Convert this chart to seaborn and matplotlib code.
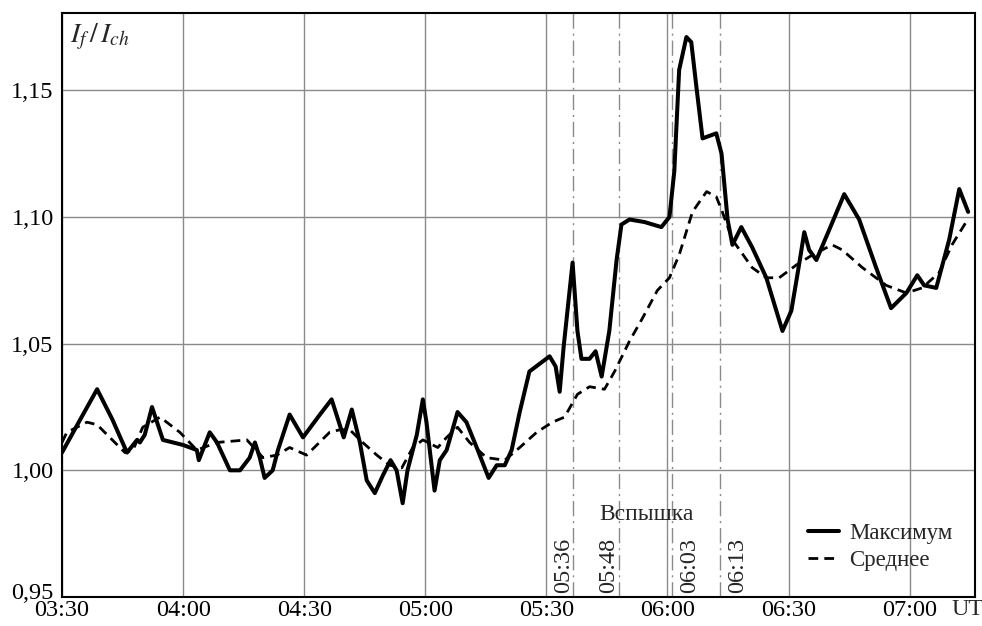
import matplotlib
matplotlib.use("Agg")
import matplotlib.pyplot as plt
import matplotlib.transforms as mtransforms
import seaborn as sns
import pandas as pd

# time in minutes after 03:30 UT
max_t = [0, 4.5, 8.7, 12.5, 16.1, 18.6, 19.3, 20.5, 22.3, 25.0, 30.0, 33.4, 33.9, 36.6, 38.4,
         41.6, 44.1, 46.5, 47.8, 49.0, 50.2, 52.2, 53.5, 56.4, 59.7, 63.9, 66.8, 69.8, 71.8,
         73.8, 75.5, 77.5, 79.5, 81.4, 82.9, 84.4, 85.6, 87.9, 89.4, 90.3, 92.3, 93.6, 95.3,
         98.0, 100.2, 103.0, 105.7, 107.7, 109.7, 111.4, 113.4, 115.8, 118.3, 120.8, 122.3,
         123.3, 124.3, 126.5, 127.7, 128.7, 130.7, 132.2, 133.7, 135.6, 137.4, 138.6, 140.6,
         144.3, 148.5, 150.5, 151.7, 152.9, 154.7, 155.9, 157.2, 158.7, 160.4, 162.1, 163.4,
         164.9, 166.1, 168.3, 171.0, 174.5, 178.5, 180.7, 182.7, 183.9, 185.1, 186.9, 190.1,
         193.8, 197.5, 201.7, 205.4, 209.2, 211.9, 213.6, 216.6, 219.8, 222.3, 224.5]
max_v = [1.007, 1.020, 1.032, 1.020, 1.007, 1.012, 1.011, 1.014, 1.025, 1.012, 1.010, 1.008,
         1.004, 1.015, 1.011, 1.000, 1.000, 1.005, 1.011, 1.005, 0.997, 1.000, 1.008, 1.022,
         1.013, 1.022, 1.028, 1.013, 1.024, 1.011, 0.996, 0.991, 0.998, 1.004, 1.000, 0.987,
         1.000, 1.014, 1.028, 1.019, 0.992, 1.004, 1.008, 1.023, 1.019, 1.008, 0.997, 1.002,
         1.002, 1.008, 1.023, 1.039, 1.042, 1.045, 1.041, 1.031, 1.049, 1.082, 1.055, 1.044,
         1.044, 1.047, 1.037, 1.055, 1.083, 1.097, 1.099, 1.098, 1.096, 1.100, 1.118, 1.158,
         1.171, 1.169, 1.151, 1.131, 1.132, 1.133, 1.125, 1.099, 1.089, 1.096, 1.088, 1.076,
         1.055, 1.063, 1.082, 1.094, 1.087, 1.083, 1.095, 1.109, 1.099, 1.080, 1.064, 1.070,
         1.077, 1.073, 1.072, 1.091, 1.111, 1.102]

mean_t = [0, 1.2, 6.2, 8.7, 15.6, 17.6, 20.0, 24.3, 29.2, 33.4, 38.4, 45.8, 49.8, 53.2, 56.4,
          60.6, 66.3, 68.8, 71.3, 74.5, 78.0, 81.2, 84.2, 86.9, 89.4, 93.1, 95.3, 98.0, 101.0,
          105.2, 109.7, 113.4, 117.6, 121.5, 124.5, 127.7, 130.7, 134.4, 136.9, 140.6, 143.8,
          147.5, 150.5, 152.9, 156.2, 159.7, 162.1, 163.6, 166.1, 171.0, 174.5, 177.7, 181.9,
          185.9, 190.8, 193.3, 198.3, 204.2, 209.2, 213.1, 217.3, 220.5, 224.0]
mean_v = [1.011, 1.015, 1.019, 1.018, 1.007, 1.008, 1.017, 1.021, 1.015, 1.008, 1.011, 1.012,
          1.005, 1.006, 1.009, 1.006, 1.015, 1.016, 1.016, 1.011, 1.006, 1.002, 1.001, 1.009,
          1.012, 1.009, 1.013, 1.017, 1.011, 1.005, 1.004, 1.009, 1.015, 1.019, 1.021, 1.030,
          1.033, 1.032, 1.039, 1.051, 1.060, 1.071, 1.076, 1.085, 1.102, 1.110, 1.108, 1.102,
          1.091, 1.080, 1.076, 1.076, 1.081, 1.085, 1.089, 1.087, 1.080, 1.073, 1.070, 1.072,
          1.078, 1.089, 1.098]

tick_pos = [0, 30, 60, 90, 120, 150, 180, 210]
tick_labels = ["03:30", "04:00", "04:30", "05:00", "05:30", "06:00", "06:30", "07:00"]
y_ticks = [0.95, 1.00, 1.05, 1.10, 1.15]
y_labels = ["0,95", "1,00", "1,05", "1,10", "1,15"]

flash_pos = [126.5, 138.1, 151.2, 163.1]
flash_labels = ["05:36", "05:48", "06:03", "06:13"]
flash_label_pos = [124.3, 135.4, 155.5, 167.3]

sns.set_style("white")
plt.rcParams["font.family"] = ["Liberation Serif", "DejaVu Serif"]
plt.rcParams["mathtext.fontset"] = "stix"

fig = plt.figure(figsize=(9.82, 6.26), dpi=100)
ax = fig.add_axes([62 / 982, 1 - 597 / 626, (975 - 62) / 982, (597 - 13) / 626])

df_max = pd.DataFrame({"t": max_t, "v": max_v})
df_mean = pd.DataFrame({"t": mean_t, "v": mean_v})

ax.grid(True, color="#8a8a8a", linewidth=1.0)
ax.set_axisbelow(True)

for xp in flash_pos:
    ax.axvline(xp, color="#8a8a8a", linewidth=1.0, linestyle=(0, (11, 3.5, 1.5, 3.5)), zorder=1)

sns.lineplot(data=df_max, x="t", y="v", ax=ax, color="black", linewidth=2.9,
             label="Максимум", sort=False, zorder=3, solid_joinstyle="round",
             solid_capstyle="round")
sns.lineplot(data=df_mean, x="t", y="v", ax=ax, color="black", linewidth=2.0,
             linestyle=(0, (3.5, 2.2)), label="Среднее", sort=False, zorder=3,
             dash_joinstyle="round")

ax.set_xlim(0, 226.2)
ax.set_ylim(0.95, 1.1805)
ax.set_xticks(tick_pos)
ax.set_xticklabels(tick_labels)
ax.set_yticks(y_ticks)
ax.set_yticklabels(y_labels)
ax.tick_params(direction="in", length=8, width=1.5, labelsize=17.5, colors="black")
ax.tick_params(axis="y", pad=6)
ax.tick_params(axis="x", pad=2)
ax.set_xlabel("")
ax.set_ylabel("")
for s in ax.spines.values():
    s.set_color("black")
    s.set_linewidth(1.5)

# lift the lowest y label a little, as in the reference
lbl = ax.get_yticklabels()[0]
lbl.set_transform(lbl.get_transform() + mtransforms.ScaledTranslation(0, 6 / 100, fig.dpi_scale_trans))

ax.annotate("UT", xy=(220.4, 0), xycoords=("data", "axes fraction"),
            xytext=(0, -1.5), textcoords="offset points", ha="left", va="top", fontsize=17.5)

for xl, lab in zip(flash_label_pos, flash_labels):
    ax.text(xl, 0.9515, lab, rotation=90, ha="center", va="bottom", fontsize=17.5)
ax.text(144.8, 0.9826, "Вспышка", ha="center", va="center", fontsize=17)

ax.text(0.009, 0.985, r"$I_f\,/\,I_{ch}$", transform=ax.transAxes, ha="left", va="top",
        fontsize=20)

leg = ax.legend(loc="lower right", bbox_to_anchor=(0.998, 0.01), frameon=False,
                fontsize=16.5, handlelength=1.35, handletextpad=0.45, labelspacing=0.25)

fig.savefig("out.png", dpi=100)
